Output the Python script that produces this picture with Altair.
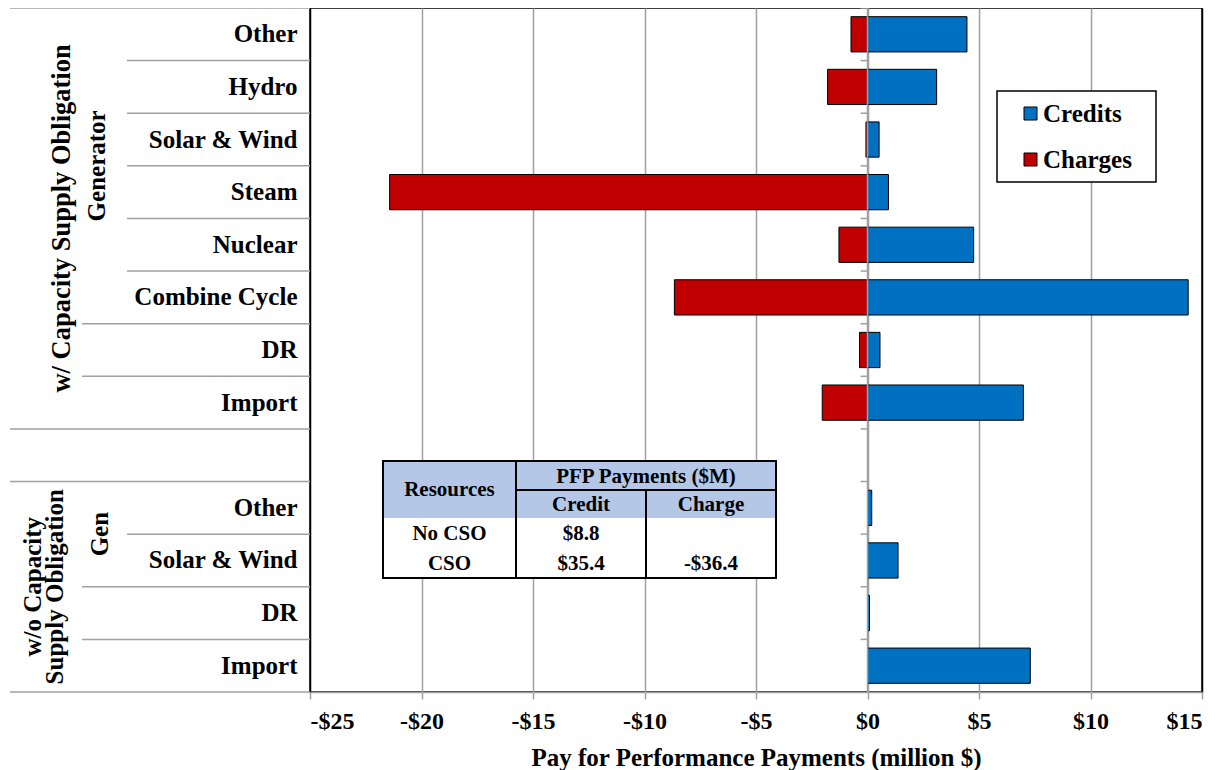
import altair as alt
import pandas as pd

# ---------------- data ----------------
CSO_CATEGORIES = ["Other", "Hydro", "Solar & Wind", "Steam", "Nuclear\u00a0", "Combine Cycle", "DR", "Import"]
CSO_CREDITS = [4.46, 3.10, 0.52, 0.94, 4.76, 14.38, 0.56, 6.99]
CSO_CHARGES = [-0.74, -1.79, -0.07, -21.43, -1.28, -8.66, -0.36, -2.03]
NOCSO_CATEGORIES = ["Other", "Solar & Wind", "DR", "Import"]
NOCSO_CREDITS = [0.19, 1.37, 0.09, 7.30]

SERIES = ["Credits", "Charges"]
COLORS = ["#0070C0", "#C00000"]
X_TICKS = [-25, -20, -15, -10, -5, 0, 5, 10, 15]
X_TITLE = "Pay for Performance Payments (million $)"

GROUP_OUTER = [["w/ Capacity Supply Obligation"], ["w/o Capacity", "Supply Obligation"]]
GROUP_INNER = ["Generator", "Gen"]

TABLE_HEAD_1 = ["Resources", "PFP Payments ($M)"]
TABLE_HEAD_2 = ["Credit", "Charge"]
TABLE_ROWS = ["No CSO", "CSO"]
TABLE_CREDIT = ["$8.8", "$35.4"]
TABLE_CHARGE = ["", "-$36.4"]

# ---------------- layout ----------------
SERIF = "'Liberation Serif', 'Times New Roman', 'DejaVu Serif', serif"
W, H = 892, 684
GRAY = "#A0A0A0"

CSO_KEYS = ["CSO|" + c for c in CSO_CATEGORIES]
GAP_KEY = "gap|"
NOCSO_KEYS = ["NoCSO|" + c for c in NOCSO_CATEGORIES]
KEYS = CSO_KEYS + [GAP_KEY] + NOCSO_KEYS
STEP = H / len(KEYS)

rows = []
for k, cr, ch in zip(CSO_KEYS, CSO_CREDITS, CSO_CHARGES):
    rows.append({"key": k, "series": "Credits", "value": cr})
    rows.append({"key": k, "series": "Charges", "value": ch})
for k, cr in zip(NOCSO_KEYS, NOCSO_CREDITS):
    rows.append({"key": k, "series": "Credits", "value": cr})
bars_df = pd.DataFrame(rows)

yscale = alt.Scale(domain=KEYS, paddingInner=0, paddingOuter=0)

x_enc = alt.X(
    "value:Q",
    stack=None,
    scale=alt.Scale(domain=[-25, 15], nice=False),
    axis=alt.Axis(
        values=X_TICKS,
        labelExpr="datum.value < 0 ? '-$' + abs(datum.value) : '$' + datum.value",
        title=X_TITLE,
        grid=True,
        gridColor={"condition": {"test": "datum.value === -25 || datum.value === 15", "value": "black"}, "value": GRAY},
        gridWidth=1.5,
        domainColor=GRAY,
        domainWidth=1.5,
        tickColor=GRAY,
        tickWidth=1.5,
        tickSize=7,
        labelFont=SERIF,
        labelFontSize=24,
        labelFontWeight="bold",
        labelColor="black",
        labelPadding=10,
        titleFont=SERIF,
        titleFontSize=25,
        titleFontWeight="bold",
        titleColor="black",
        titlePadding=12,
    ),
)

y_axis = alt.Axis(
    title=None,
    ticks=False,
    domain=False,
    grid=False,
    labelExpr="substring(datum.label, indexof(datum.label, '|') + 1)",
    labelFont=SERIF,
    labelFontSize=25,
    labelFontWeight="bold",
    labelColor="black",
    labelPadding=13,
    labelLimit=400,
)

y_enc = alt.Y("key:N", sort=KEYS, scale=yscale, axis=y_axis)

LEG_BOX = (687, 846, 83, 174)  # legend frame, plot-relative pixels

bars = alt.Chart(bars_df).mark_bar(
    height=alt.RelativeBandSize(0.67), stroke="black", strokeWidth=1
).encode(
    x=x_enc,
    x2=alt.datum(0),
    y=y_enc,
    color=alt.Color(
        "series:N",
        scale=alt.Scale(domain=SERIES, range=COLORS),
        legend=alt.Legend(
            title=None,
            orient="none",
            legendX=708,
            legendY=93,
            strokeColor="transparent",
            padding=0,
            symbolType="square",
            symbolSize=169,
            symbolStrokeColor="black",
            symbolStrokeWidth=1,
            labelFont=SERIF,
            labelFontSize=25,
            labelFontWeight="bold",
            labelColor="black",
            rowPadding=20,
            labelOffset=0,
        ),
    ),
)

one = alt.Data(values=[{"a": 0}])

legend_box = alt.Chart(one).mark_rect(fill="white", stroke="black", strokeWidth=1.5).encode(
    x=alt.value(LEG_BOX[0]), x2=alt.value(LEG_BOX[1]), y=alt.value(LEG_BOX[2]), y2=alt.value(LEG_BOX[3])
)

# zero axis line on top of bars
zero_line = alt.Chart(one).mark_rule(color=GRAY, strokeWidth=1.5).encode(
    x=alt.datum(0), y=alt.value(0), y2=alt.value(H)
)

# small category tick marks at zero
tick_df = pd.DataFrame({"key": KEYS})
zero_ticks = alt.Chart(tick_df).mark_rule(color=GRAY, strokeWidth=1.5).encode(
    x=alt.datum(0), x2=alt.datum(-0.31), y=alt.Y("key:N", bandPosition=0, axis=y_axis)
)

# left-hand label table separators
inner_keys = CSO_KEYS[1:6] + NOCSO_KEYS[1:2]
mid_keys = CSO_KEYS[6:8] + NOCSO_KEYS[2:4]
full_keys = [CSO_KEYS[0], GAP_KEY, NOCSO_KEYS[0]]


def sep(keys, x0):
    return alt.Chart(pd.DataFrame({"key": keys})).mark_rule(color=GRAY, strokeWidth=1.5).encode(
        x=alt.value(x0), x2=alt.value(0), y=alt.Y("key:N", bandPosition=0, axis=y_axis)
    )


sep_inner = sep(inner_keys, -183)
sep_mid = sep(mid_keys, -228)
sep_full = sep(full_keys, -300)
sep_bottom = alt.Chart(one).mark_rule(color=GRAY, strokeWidth=1.5).encode(
    x=alt.value(-300), x2=alt.value(0), y=alt.value(H)
)

# group labels (rotated)
def rot(text, x, y, size=25, lh=22):
    return alt.Chart(one).mark_text(
        text=text, angle=270, font=SERIF, fontSize=size, fontWeight="bold",
        align="center", baseline="middle", lineHeight=lh, color="black",
    ).encode(x=alt.value(x), y=alt.value(y))


g1 = rot(GROUP_OUTER[0], -248, STEP * 4, size=26.5)
g2 = rot(GROUP_OUTER[1], -277, STEP * 11)
g3 = rot(GROUP_INNER[0], -213, STEP * 3)
g4 = rot(GROUP_INNER[1], -210, STEP * 10)

# ---------------- inset table ----------------
TX = [73, 206, 336, 466]
TY = [453, 482, 510, 540, 570]
HEAD_FILL = "#B4C7E7"

t_bg = alt.Chart(one).mark_rect(fill="white").encode(
    x=alt.value(TX[0]), x2=alt.value(TX[3]), y=alt.value(TY[0]), y2=alt.value(TY[4])
)
t_head = alt.Chart(one).mark_rect(fill=HEAD_FILL).encode(
    x=alt.value(TX[0]), x2=alt.value(TX[3]), y=alt.value(TY[0]), y2=alt.value(TY[2])
)
t_border = alt.Chart(one).mark_rect(fillOpacity=0, stroke="black", strokeWidth=2).encode(
    x=alt.value(TX[0]), x2=alt.value(TX[3]), y=alt.value(TY[0]), y2=alt.value(TY[4])
)
t_v1 = alt.Chart(one).mark_rule(color="black", strokeWidth=2).encode(
    x=alt.value(TX[1]), y=alt.value(TY[0]), y2=alt.value(TY[4])
)
t_v2 = alt.Chart(one).mark_rule(color="black", strokeWidth=2).encode(
    x=alt.value(TX[2]), y=alt.value(TY[1]), y2=alt.value(TY[4])
)
t_h1 = alt.Chart(one).mark_rule(color="black", strokeWidth=2).encode(
    x=alt.value(TX[1]), x2=alt.value(TX[3]), y=alt.value(TY[1])
)

cells = []
cx = [(TX[i] + TX[i + 1]) / 2 for i in range(3)]
cells.append({"t": TABLE_HEAD_1[0], "cx": cx[0], "cy": (TY[0] + TY[2]) / 2})
cells.append({"t": TABLE_HEAD_1[1], "cx": (TX[1] + TX[3]) / 2, "cy": (TY[0] + TY[1]) / 2 + 1})
cells.append({"t": TABLE_HEAD_2[0], "cx": cx[1], "cy": (TY[1] + TY[2]) / 2 + 1})
cells.append({"t": TABLE_HEAD_2[1], "cx": cx[2], "cy": (TY[1] + TY[2]) / 2 + 1})
for i, (r, c, h) in enumerate(zip(TABLE_ROWS, TABLE_CREDIT, TABLE_CHARGE)):
    yc = (TY[2 + i] + TY[3 + i]) / 2 + 1
    cells.append({"t": r, "cx": cx[0], "cy": yc})
    cells.append({"t": c, "cx": cx[1], "cy": yc})
    cells.append({"t": h, "cx": cx[2], "cy": yc})
cells_df = pd.DataFrame(cells)

t_text = alt.Chart(cells_df).mark_text(
    font=SERIF, fontSize=21, fontWeight="bold", color="black", align="center", baseline="middle"
).encode(
    x=alt.X("cx:Q", scale=None, axis=None),
    y=alt.Y("cy:Q", scale=None, axis=None),
    text="t:N",
)

chart = alt.layer(
    legend_box, bars, zero_line, zero_ticks,
    sep_inner, sep_mid, sep_full, sep_bottom,
    g1, g2, g3, g4,
    t_bg, t_head, t_border, t_v1, t_v2, t_h1, t_text,
).properties(
    width=W, height=H,
    padding={"left": 302, "top": 0, "right": 20, "bottom": 80},
    autosize="none",
).configure_view(
    stroke="black", strokeWidth=1.5
)

chart.save("out.html", embed_options={"renderer": "svg", "actions": False})
